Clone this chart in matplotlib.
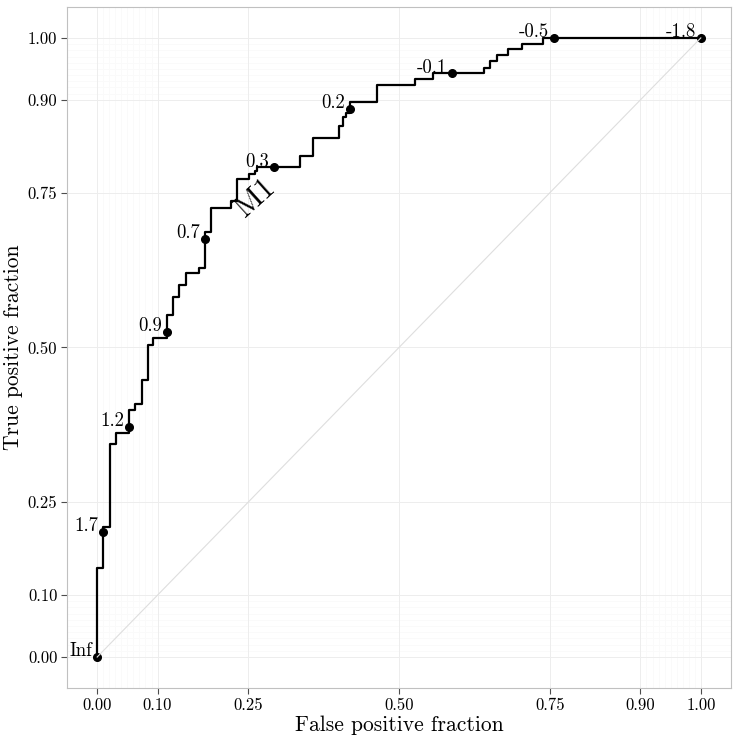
import numpy as np
import matplotlib
matplotlib.use('Agg')
import matplotlib.pyplot as plt

plt.rcParams['font.family'] = ['cmr10', 'DejaVu Serif']
plt.rcParams['mathtext.fontset'] = 'cm'
plt.rcParams['axes.unicode_minus'] = False

# ROC step corners (right end of each horizontal run), steps-pre
fpf = [0.000, 0.010, 0.0215, 0.0315, 0.053, 0.063, 0.074, 0.085, 0.093, 0.115,
       0.126, 0.136, 0.147, 0.168, 0.178, 0.189, 0.221, 0.231, 0.251, 0.261,
       0.265, 0.336, 0.357, 0.400, 0.408, 0.413, 0.419, 0.463, 0.527, 0.557,
       0.640, 0.651, 0.662, 0.681, 0.703, 0.739, 1.000]
tpf = [0.000, 0.144, 0.210, 0.344, 0.362, 0.399, 0.409, 0.448, 0.504, 0.515,
       0.553, 0.582, 0.601, 0.620, 0.629, 0.686, 0.725, 0.736, 0.772, 0.780,
       0.785, 0.791, 0.809, 0.838, 0.857, 0.873, 0.878, 0.896, 0.924, 0.934,
       0.943, 0.952, 0.962, 0.973, 0.982, 0.991, 1.000]

# labelled cutoffs
cut_lbl = ['Inf', '1.7', '1.2', '0.9', '0.7', '0.3', '0.2', '-0.1', '-0.5', '-1.8']
cut_x = [0.000, 0.010, 0.053, 0.115, 0.178, 0.293, 0.419, 0.587, 0.756, 1.000]
cut_y = [0.000, 0.202, 0.372, 0.525, 0.676, 0.791, 0.886, 0.943, 1.000, 1.000]

major = [0, 0.1, 0.25, 0.5, 0.75, 0.9, 1.0]
minor = list(np.arange(0, 0.1001, 0.01)) + list(np.arange(0.9, 1.0001, 0.01))

fig = plt.figure(figsize=(7.38, 7.42), dpi=100)
ax = fig.add_axes([0.0908, 0.0728, 0.8997, 0.9178])

for v in minor:
    ax.axvline(v, color='#fafafa', lw=0.7, zorder=0)
    ax.axhline(v, color='#fafafa', lw=0.7, zorder=0)
for v in major:
    ax.axvline(v, color='#ededed', lw=0.7, zorder=0)
    ax.axhline(v, color='#ededed', lw=0.7, zorder=0)

ax.plot(fpf, tpf, drawstyle='steps-pre', color='black', lw=1.6, zorder=3)
ax.plot(cut_x, cut_y, 'o', color='black', ms=5.5, zorder=4)
ax.plot([0, 1], [0, 1], color='#dedede', lw=0.8, zorder=5)

for lab, x, y in zip(cut_lbl, cut_x, cut_y):
    ax.annotate(lab, (x, y), xytext=(-3.5, 4), textcoords='offset points',
                ha='right', va='center', fontsize=13.5, zorder=6)

ax.text(0.262, 0.742, 'M1', rotation=42, ha='center', va='center',
        fontsize=22, zorder=6)

ax.set_xlim(-0.05, 1.05)
ax.set_ylim(-0.05, 1.05)
ax.set_xticks(major)
ax.set_yticks(major)
ax.set_xticklabels(['%.2f' % v for v in major])
ax.set_yticklabels(['%.2f' % v for v in major])
ax.tick_params(length=4, width=0.8, color='#4d4d4d', labelsize=12, pad=3)
for s in ax.spines.values():
    s.set_color('#c0c0c0')
    s.set_linewidth(0.8)

ax.set_xlabel('False positive fraction', fontsize=15.5, labelpad=2)
ax.set_ylabel('True positive fraction', fontsize=15.5, labelpad=3)

fig.savefig('out.png', dpi=100)
